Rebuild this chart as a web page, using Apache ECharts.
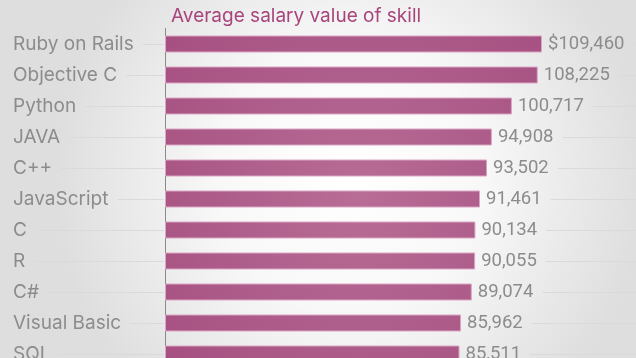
<!DOCTYPE html>
<html><head><meta charset="utf-8">
<script src="https://cdn.jsdelivr.net/npm/echarts@6/dist/echarts.min.js"></script>
<style>html,body{margin:0;padding:0;overflow:hidden;}#c{width:636px;height:370px;}</style>
</head><body><div id="c"></div>
<script>
const title = 'Average salary value of skill';
const categories = ['Ruby on Rails','Objective C','Python','JAVA','C++','JavaScript','C','R','C#','Visual Basic','SQL'];
const values = [109460,108225,100717,94908,93502,91461,90134,90055,89074,85962,85511];
const valueLabels = ['$109,460','108,225','100,717','94,908','93,502','91,461','90,134','90,055','89,074','85,962','85,511'];

const CAT_FONT = 'Inter', CAT_FS = 19;
const VAL_FONT = 'Roboto', VAL_FS = 18.5;
const cv = document.createElement('canvas').getContext('2d');
function tw(s, f, size){ cv.font = size + 'px "' + f + '"'; return cv.measureText(s).width; }

const chart = echarts.init(document.getElementById('c'));
const GL = 165;
chart.setOption({
  backgroundColor: {type:'radial', x:0.55, y:0.48, r:0.8, colorStops:[{offset:0,color:'#ffffff'},{offset:0.45,color:'#f8f8f8'},{offset:1,color:'#dedede'}]},
  animation:false,
  title:{text:title, left:166, top:2, textStyle:{color:'#a8457c', fontFamily:CAT_FONT, fontWeight:'normal', fontSize:CAT_FS}},
  grid:{left:GL, right:0, top:28.5, height:341, containLabel:false},
  xAxis:{type:'value', min:0, max:136750, show:false},
  yAxis:{type:'category', data:categories, inverse:true,
    axisLine:{show:true, lineStyle:{color:'#8a8a8a', width:1}},
    axisTick:{show:false}, splitLine:{show:false},
    axisLabel:{align:'left', margin:GL-13, color:'#8c8c8c', fontFamily:CAT_FONT, fontSize:CAT_FS}},
  series:[
    {type:'custom', z:1, silent:true, clip:false,
     data: categories.map((c,i)=>[0,i]),
     renderItem:function(params, api){
       const i = api.value(1);
       const p0 = api.coord([0, i]);
       const y = Math.round(p0[1]) + 0.5;
       const pv = api.coord([values[i], i]);
       const x1 = 13 + tw(categories[i], CAT_FONT, CAT_FS) + 9;
       const x2 = pv[0] + 6 + tw(valueLabels[i], VAL_FONT, VAL_FS) + 9;
       const st = {stroke:'#dadada', lineWidth:1};
       return {type:'group', children:[
         {type:'line', shape:{x1:x1, y1:y, x2:GL-1, y2:y}, style:st},
         {type:'line', shape:{x1:x2, y1:y, x2:636, y2:y}, style:st}
       ]};
     }},
    {type:'bar', z:2, data:values, barWidth:17,
     itemStyle:{color:{type:'radial', global:true, x:360, y:200, r:260, colorStops:[{offset:0,color:'#b86d96'},{offset:1,color:'#a54f80'}]},
       borderColor:'#dba6c3', borderWidth:1},
     label:{show:true, position:'right', distance:6, color:'#8c8c8c', fontFamily:VAL_FONT, fontSize:VAL_FS,
       formatter:p=>valueLabels[p.dataIndex]}}
  ]
});
</script></body></html>
